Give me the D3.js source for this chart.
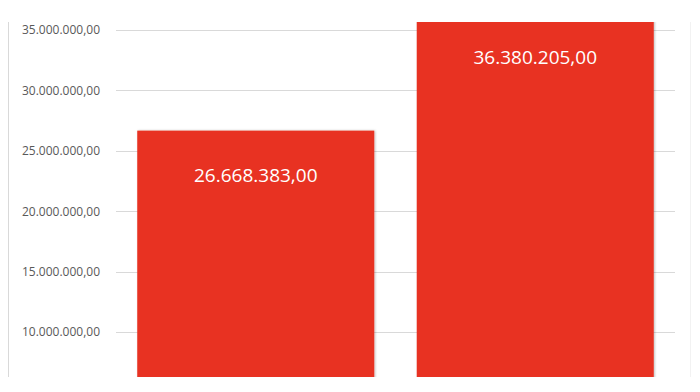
<!DOCTYPE html>
<html lang="en">
<head>
    <meta charset="UTF-8">
    <title>Bar chart</title>
    <script src="https://d3js.org/d3.v7.min.js"></script>
    <style>
        body { margin: 0; background: #fff; }
        .tick text {
            font-family: "Open Sans", sans-serif;
            font-size: 12px;
            fill: #595959;
        }
        .grid line { stroke: #d9d9d9; stroke-width: 1px; }
        .bar-label {
            font-family: "Open Sans", sans-serif;
            font-size: 19px;
            fill: #fff;
        }
    </style>
</head>
<body>
    <div id="chart"></div>
    <script>
        // data
        const categories = ["A", "B"];
        const values = [26668383, 36380205];
        const tickValues = [10000000, 15000000, 20000000, 25000000, 30000000, 35000000];

        const width = 700, height = 392;
        const plotTop = 22, plotBottom = 377;

        const locale = d3.formatLocale({ decimal: ",", thousands: ".", grouping: [3], currency: ["", ""] });
        const fmt = locale.format(",.2f");

        const svg = d3.select("#chart").append("svg")
            .attr("width", width)
            .attr("height", height);

        const defs = svg.append("defs");
        defs.append("clipPath").attr("id", "plot-clip")
            .append("rect")
            .attr("x", 0).attr("y", plotTop)
            .attr("width", width).attr("height", plotBottom - plotTop);

        const shadow = defs.append("filter").attr("id", "shadow")
            .attr("x", "-5%").attr("y", "-5%").attr("width", "110%").attr("height", "110%");
        shadow.append("feDropShadow")
            .attr("dx", 1).attr("dy", 0).attr("stdDeviation", 1.2)
            .attr("flood-color", "#000").attr("flood-opacity", 0.25);

        const y = d3.scaleLinear().domain([10000000, 35000000]).range([332, 30]);
        const x = d3.scaleBand().domain(categories).range([116, 675])
            .paddingInner(0.152).paddingOuter(0.076);

        // frame lines
        svg.append("line")
            .attr("x1", 8.5).attr("x2", 8.5).attr("y1", plotTop).attr("y2", plotBottom)
            .attr("stroke", "#d9d9d9");
        svg.append("line")
            .attr("x1", 690.5).attr("x2", 690.5).attr("y1", plotTop).attr("y2", plotBottom)
            .attr("stroke", "#f2f2f2");

        // gridlines
        svg.append("g").attr("class", "grid")
            .selectAll("line")
            .data(tickValues)
            .enter().append("line")
            .attr("x1", 116).attr("x2", 675)
            .attr("y1", d => Math.round(y(d)) + 0.5)
            .attr("y2", d => Math.round(y(d)) + 0.5);

        // y axis labels
        const yAxis = svg.append("g")
            .attr("transform", "translate(100,0)")
            .call(d3.axisLeft(y).tickValues(tickValues).tickFormat(fmt).tickSize(0).tickPadding(0));
        yAxis.select(".domain").remove();

        // bars
        const plot = svg.append("g").attr("clip-path", "url(#plot-clip)");
        plot.selectAll(".bar")
            .data(values)
            .enter().append("rect")
            .attr("class", "bar")
            .attr("x", (d, i) => x(categories[i]))
            .attr("y", d => y(d))
            .attr("width", x.bandwidth())
            .attr("height", d => y(0) - y(d))
            .attr("fill", "#e83323")
            .attr("filter", "url(#shadow)");

        plot.selectAll(".bar-label")
            .data(values)
            .enter().append("text")
            .attr("class", "bar-label")
            .attr("x", (d, i) => x(categories[i]) + x.bandwidth() / 2)
            .attr("y", d => y(d) + 46)
            .attr("text-anchor", "middle")
            .attr("dominant-baseline", "middle")
            .text(d => fmt(d));

        // white strip below crop
        svg.append("rect")
            .attr("x", 0).attr("y", plotBottom).attr("width", width).attr("height", height - plotBottom)
            .attr("fill", "#fff");
    </script>
</body>
</html>
